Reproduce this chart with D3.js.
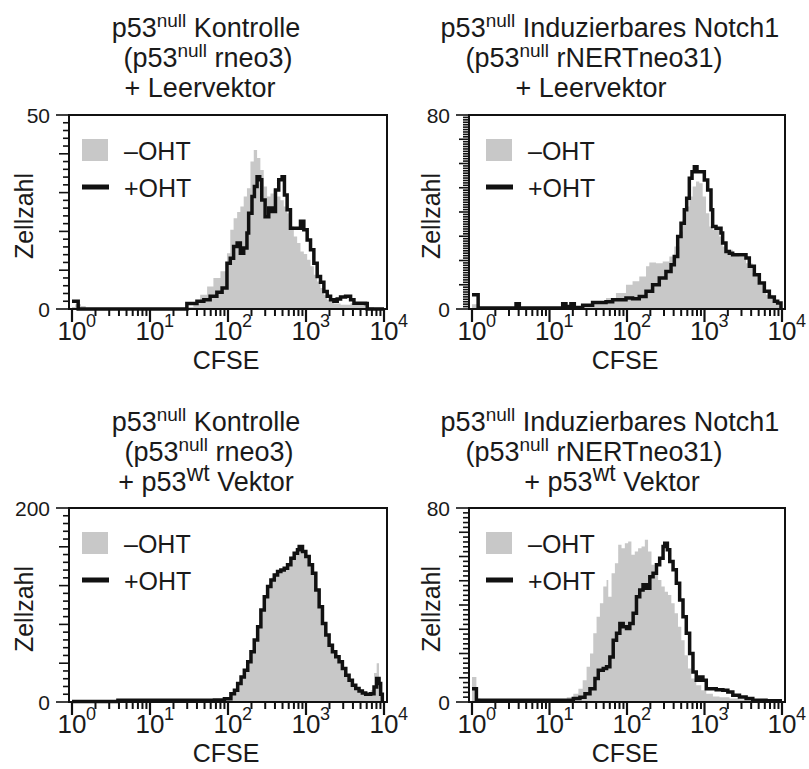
<!DOCTYPE html>
<html><head><meta charset="utf-8">
<script src="https://cdn.jsdelivr.net/npm/d3@7/dist/d3.min.js"></script>
<style>
body{margin:0;background:#fff;}
text{font-family:"Liberation Sans",Arial,Helvetica,sans-serif;fill:#1a1a1a;}
</style></head>
<body>
<svg id="chart" width="809" height="769"></svg>
<script>
// ---------- DATA ----------
const seriesNames = ["\u2013OHT", "+OHT"];
const xTickExponents = ["0", "1", "2", "3", "4"];
const yMax = [50, 80, 200, 80];
const yMinorStep = [2, 1, 8, 2];
const yMediumStep = [10, 10, 40, 10];

// titles: segments [text, superscript size (0 = normal)]
const titleTopLeft = [
  [["p53", 0], ["null", 19], [" Kontrolle", 0]],
  [["(p53", 0], ["null", 19], [" rneo3)", 0]],
  [["+ Leervektor", 0]]
];
const titleTopRight = [
  [["p53", 0], ["null", 19], [" Induzierbares Notch1", 0]],
  [["(p53", 0], ["null", 19], [" rNERTneo31)", 0]],
  [["+ Leervektor", 0]]
];
const titleBottomLeft = [
  [["p53", 0], ["null", 19], [" Kontrolle", 0]],
  [["(p53", 0], ["null", 19], [" rneo3)", 0]],
  [["+ p53", 0], ["wt", 23], [" Vektor", 0]]
];
const titleBottomRight = [
  [["p53", 0], ["null", 19], [" Induzierbares Notch1", 0]],
  [["(p53", 0], ["null", 19], [" rNERTneo31)", 0]],
  [["+ p53", 0], ["wt", 23], [" Vektor", 0]]
];

// [CFSE, Zellzahl]
const p1Minus = [[1.0,0.5],[1.1,1.2],[1.3,0.8],[1.5,0],[28,0],[30,0.5],[36,1.5],[44,3.7],[54,5.8],[65,8],[80,9.7],[97,14.4],[107,20.4],[118,23.4],[131,25],[144,26.4],[159,29],[175,31.1],[194,38],[214,41],[236,38.9],[260,35.8],[287,31.6],[317,29],[350,29.8],[386,30.7],[426,29],[470,28],[519,26.4],[573,24.7],[632,21.3],[698,18.7],[770,17],[850,14.8],[938,14.2],[1035,12.7],[1143,11],[1261,8.8],[1391,7.1],[1535,5.4],[1695,3.7],[1870,2.4],[2278,1.4],[2775,1.1],[3730,1.5],[5010,1.1],[6100,0.5],[7440,0],[10000,0]];
const p1Plus = [[1.0,2.0],[1.15,2.0],[1.2,0],[24.4,0],[29.7,1.4],[40,2.0],[49,2.4],[59,3.3],[72,4.3],[84,5.4],[97,11.8],[107,13.1],[118,16.1],[131,17],[144,14.4],[159,15.7],[175,19.6],[184,24.7],[203,29],[218,31.6],[236,34.1],[255,33.3],[271,28.1],[299,23.8],[333,26],[367,25.1],[406,30.7],[447,33.3],[494,34.1],[529,29.4],[573,25.6],[632,20.8],[698,20.8],[770,20.8],[850,22.6],[938,20.4],[1035,17.8],[1143,15.3],[1261,11.8],[1391,8.4],[1535,6.9],[1695,4.5],[1870,3.3],[2065,2.4],[2278,2.0],[2513,2.6],[2775,3.1],[3216,3.3],[3730,2.4],[4118,1.5],[5010,1.5],[5810,1.4],[6100,0],[10000,0]];

const p2Minus = [[1.0,2],[1.2,0.8],[2.25,0.5],[6.06,0.6],[16.3,0.8],[24.3,1.2],[36,2.5],[53.6,4.5],[72,6.6],[97,10],[118,11.4],[144,13.4],[176,17.6],[194,19.2],[237,18.9],[289,19.6],[352,21.7],[408,25.8],[473,32],[523,36.8],[577,42.3],[637,46.4],[703,50.5],[777,52.6],[858,51.9],[947,46.4],[1045,39.5],[1154,34],[1274,32.7],[1407,32.7],[1553,29.9],[1715,25.8],[1893,24.4],[2308,22.4],[2814,21.7],[3430,18.9],[4184,14.8],[5100,10],[6220,5.9],[7586,3.2],[9250,1.1],[10000,0]];
const p2Plus = [[1.0,5.9],[1.1,5.9],[1.2,0.4],[3.35,0.4],[3.7,2.2],[4.08,0.4],[13.4,0.4],[14.8,2.2],[16.3,1.0],[18.9,2.2],[20.9,0.6],[26.8,1.5],[36,2.7],[53.6,3.0],[65.3,3.8],[97,4.5],[118,4.2],[144,5.2],[176,7.3],[214,10],[261,12.8],[318,15.5],[370,18.2],[408,21.7],[451,29.9],[498,35.4],[549,40.9],[589,45.7],[637,53.9],[690,56.6],[740,58.7],[800,56.6],[901,56.6],[995,53.2],[1099,49.1],[1213,40.9],[1274,34],[1407,33.3],[1553,33.3],[1633,31.3],[1715,27.2],[1893,23.7],[2091,23],[2308,22.4],[2958,22.4],[3430,21],[3787,17.6],[4395,14.1],[5100,10.7],[5918,7.3],[6867,4.9],[7966,3.2],[8790,2.5],[9700,0]];

const p3Minus = [[1.0,0.5],[3.88,1.2],[13.9,1.4],[45,1.5],[67,2.2],[90,4.0],[109,9.5],[121,13],[133,20],[147,27],[162,34],[179,42.5],[197,53],[217,65],[240,79],[264,96],[292,110],[322,121],[355,128],[392,133],[432,136],[476,137.5],[526,139],[580,143],[640,150],[706,155],[778,158.5],[818,161],[902,156],[995,150.5],[1099,142],[1211,133.5],[1336,117],[1474,99.5],[1626,82.5],[1794,70],[1978,60],[2182,52.5],[2408,47.5],[2655,42],[2929,35],[3235,28.5],[3566,23],[3934,18],[4343,14.5],[4787,12],[5281,10],[5824,9],[6745,12],[7447,30],[8054,40],[8630,25],[9060,8],[9520,0]];
const p3Plus = [[1.0,0.5],[3.88,1.7],[13.9,1.7],[45,1.7],[67,2.0],[90,3.4],[109,8.6],[121,12],[133,19],[147,25.9],[162,32.8],[179,41.4],[197,51.7],[217,63.8],[240,77.6],[264,94.8],[292,108.6],[322,119],[355,125.9],[392,131],[432,134.5],[476,136.2],[526,138],[580,141.4],[640,148.3],[706,153.4],[778,156.9],[818,160.3],[902,155.2],[995,150],[1099,141.4],[1211,132.8],[1336,115.5],[1474,98.3],[1626,81],[1794,69],[1978,58.6],[2182,51.7],[2408,46.6],[2655,41.4],[2929,34.5],[3235,27.6],[3566,22.4],[3934,17.2],[4343,13.8],[4787,11.4],[5281,9.3],[5824,7.9],[6745,8.6],[7447,15.5],[8054,24.1],[8630,19],[9060,8],[9520,0]];

const p4Minus = [[1.0,10.3],[1.07,10.3],[1.14,1.4],[1.28,1.0],[6.2,1.0],[16.7,2.0],[20.3,3.4],[23.6,5.5],[26.8,9],[30.1,14.5],[33.3,20],[36.7,28.3],[40.5,35.2],[44.7,40.7],[49.4,47.6],[54.5,50.3],[57.3,43.4],[63.2,53.1],[69.8,57.2],[77,64.8],[85,63.4],[93.8,65.5],[103.5,66.2],[114,60.7],[126,62.1],[139,63.4],[154,64.1],[170,66.9],[187,62.1],[207,56.6],[228,52.4],[252,50.3],[278,47.6],[307,45.5],[338,44.1],[373,40.7],[412,36.6],[455,31],[502,25.5],[554,19.3],[612,13.8],[676,9.7],[783,6.9],[908,4.8],[1054,3.4],[1284,2.3],[1563,2.0],[2102,1.4],[2827,1.0],[4198,0.7],[6223,0.4],[9240,0.3],[10000,0]];
const p4Plus = [[1.0,5.5],[1.07,5.5],[1.14,0.7],[13.7,0.7],[16.7,0.7],[20.3,1.4],[24.7,2.0],[28.7,3.4],[33.3,5.5],[38.6,9.7],[42.6,13.1],[49.4,13.8],[54.5,14.5],[60.1,18.6],[66.4,25.5],[73.3,28.3],[80.9,32.4],[89.3,31],[98.6,30.3],[108.7,32.4],[120,36.6],[132.5,43.4],[146,46.2],[161,48.3],[178,46.9],[197,51.7],[217,53.1],[240,56.6],[264,59.3],[292,64.1],[307,65.5],[332,62.8],[356,57.9],[393,54.5],[433,49],[478,42.1],[528,35.2],[582,28.3],[643,20],[710,12.4],[783,9],[864,10.3],[954,9],[1054,5.5],[1222,5.5],[1416,5.1],[1726,4.8],[2001,4.1],[2319,2.8],[2827,2.1],[3443,1.4],[4198,0.7],[6223,0.5],[10000,0.5]];

// ---------- LAYOUT ----------
const panels = [
  {minus: p1Minus, plus: p1Plus, title: titleTopLeft, L: 69, R: 387, T: 115, B: 309,
   titleX: [206, 208, 200], titleY: [37, 67, 97], legDx: 13, ylabX: 33},
  {minus: p2Minus, plus: p2Plus, title: titleTopRight, L: 469, R: 785, T: 115, B: 309,
   titleX: [610, 594, 591], titleY: [37, 67, 97], legDx: 17, ylabX: 440},
  {minus: p3Minus, plus: p3Plus, title: titleBottomLeft, L: 69, R: 387, T: 508, B: 702,
   titleX: [206, 209, 206], titleY: [431, 461, 491], legDx: 13, ylabX: 33},
  {minus: p4Minus, plus: p4Plus, title: titleBottomRight, L: 469, R: 785, T: 508, B: 702,
   titleX: [610, 594, 612], titleY: [431, 461, 491], legDx: 17, ylabX: 440}
];

const svg = d3.select("#chart");
const GRAY = "#c8c8c8", INK = "#111";

panels.forEach((p, i) => {
  const g = svg.append("g");
  const x = d3.scaleLog().domain([1, 1e4]).range([p.L + 3, p.R - 3]);
  const y = d3.scaleLinear().domain([0, yMax[i]]).range([p.B, p.T]);

  // title
  p.title.forEach((segs, li) => {
    const t = g.append("text").attr("x", p.titleX[li]).attr("y", p.titleY[li])
      .attr("text-anchor", "middle").style("font-size", "27px");
    let raised = false;
    segs.forEach(([s, sup]) => {
      const ts = t.append("tspan").text(s);
      if (sup) { ts.attr("dy", -10).style("font-size", sup + "px"); raised = true; }
      else if (raised) { ts.attr("dy", 10); raised = false; }
    });
  });

  // gray histogram
  const area = d3.area().x(d => x(d[0])).y0(y(0)).y1(d => y(d[1])).curve(d3.curveStepAfter);
  g.append("path").datum(p.minus).attr("d", area).attr("fill", GRAY);

  // frame
  g.append("rect").attr("x", p.L).attr("y", p.T).attr("width", p.R - p.L).attr("height", p.B - p.T)
    .attr("fill", "none").attr("stroke", INK).attr("stroke-width", 2);

  // black histogram line
  const line = d3.line().x(d => x(d[0])).y(d => y(d[1])).curve(d3.curveStepAfter);
  g.append("path").datum(p.plus).attr("d", line).attr("fill", "none")
    .attr("stroke", INK).attr("stroke-width", 3.5).attr("stroke-linejoin", "miter");

  // x ticks
  const majors = [1, 10, 100, 1000, 10000];
  const minors = [];
  [1, 10, 100, 1000].forEach(b => { for (let k = 2; k <= 9; k++) minors.push(b * k); });
  g.selectAll(".xmin").data(minors).enter().append("line")
    .attr("x1", d => x(d)).attr("x2", d => x(d)).attr("y1", p.B).attr("y2", p.B + 7)
    .attr("stroke", INK).attr("stroke-width", 2);
  g.selectAll(".xmaj").data(majors).enter().append("line")
    .attr("x1", d => x(d)).attr("x2", d => x(d)).attr("y1", p.B).attr("y2", p.B + 13)
    .attr("stroke", INK).attr("stroke-width", 2.2);
  majors.forEach((m, k) => {
    g.append("text").attr("x", x(m)).attr("y", p.B + 31).attr("text-anchor", "middle")
      .style("font-size", "26px").text("10");
    g.append("text").attr("x", x(m) + 14).attr("y", p.B + 18).attr("text-anchor", "start")
      .style("font-size", "18px").text(xTickExponents[k]);
  });
  g.append("text").attr("x", (p.L + p.R) / 2 - 2).attr("y", p.B + 60).attr("text-anchor", "middle")
    .style("font-size", "25px").text("CFSE");

  // y ticks
  const yv = d3.range(0, yMax[i] + 1e-9, yMinorStep[i]);
  yv.forEach(v => {
    let len = 6;
    if (v === 0 || v === yMax[i]) len = 13;
    else if (Math.abs(v / yMediumStep[i] - Math.round(v / yMediumStep[i])) < 1e-9) len = 10;
    g.append("line").attr("x1", p.L - len).attr("x2", p.L).attr("y1", y(v)).attr("y2", y(v))
      .attr("stroke", INK).attr("stroke-width", 1.6);
  });
  [0, yMax[i]].forEach(v => {
    g.append("text").attr("x", p.L - 19).attr("y", y(v)).attr("dy", "0.36em")
      .attr("text-anchor", "end").style("font-size", "21px").text(v);
  });
  g.append("text")
    .attr("transform", `translate(${p.ylabX},${(p.T + p.B) / 2 + 4}) rotate(-90)`)
    .attr("text-anchor", "middle").style("font-size", "25px").text("Zellzahl");

  // legend
  const lx = p.L + p.legDx;
  g.append("rect").attr("x", lx).attr("y", p.T + 24).attr("width", 26).attr("height", 22).attr("fill", GRAY);
  g.append("text").attr("x", lx + 42).attr("y", p.T + 45).style("font-size", "25px").text(seriesNames[0]);
  g.append("line").attr("x1", lx).attr("x2", lx + 27).attr("y1", p.T + 72).attr("y2", p.T + 72)
    .attr("stroke", INK).attr("stroke-width", 5);
  g.append("text").attr("x", lx + 42).attr("y", p.T + 82).style("font-size", "25px").text(seriesNames[1]);
});
</script>
</body></html>
